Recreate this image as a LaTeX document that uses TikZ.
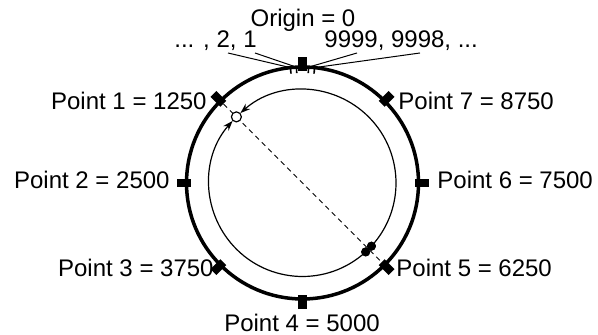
\documentclass[tikz,border=0pt]{standalone}
\usepackage{fontspec}
\setmainfont{Liberation Sans}
\usetikzlibrary{arrows.meta, calc}

\tikzset{
  lbl/.style={font=\fontsize{12}{14}\selectfont, inner sep=0pt},
  ringmark/.style={fill=black, minimum width=7pt, minimum height=4.2pt, inner sep=0pt},
  leader/.style={line width=0.5pt},
  flow/.style={line width=0.6pt, -{Stealth[length=5pt, width=3.5pt]}},
}

\begin{document}
\begin{tikzpicture}[x=0.5pt, y=0.5pt]
  \useasboundingbox (0,0) rectangle (598,335);
  \coordinate (c) at (302.5,152);

  % counters on the inner ring
  \node[circle, fill=black, minimum size=4.5pt, inner sep=0pt] (dA) at ($(c)+(-42.5:93.5)$) {};
  \node[circle, fill=black, minimum size=4.5pt, inner sep=0pt] (dB) at ($(c)+(-47.5:93.5)$) {};
  \draw[flow] (dA.center) arc[start angle=-42.5, end angle=131.6, radius=93.5];
  \draw[flow] (dB.center) arc[start angle=312.5, end angle=138.4, radius=93.5];

  % outer ring and its marks
  \draw[line width=1.75pt] (c) circle[radius=116];
  \foreach \n/\a in {a/93, b/96, z/87, y/84}
    \draw[line width=0.8pt] ($(c)+(\a:116)$) coordinate (t\n) -- ($(c)+(\a:110)$);
  \foreach \i/\a in {0/90, 1/135, 2/180, 3/225, 4/270, 5/315, 6/0, 7/45}
    \node[ringmark, rotate=\a] (p\i) at ($(c)+(\a:119)$) {};

  \draw[leader, dash pattern=on 2.5pt off 2pt] (p1) -- (p5);
  \node[circle, draw, fill=white, line width=0.6pt, minimum size=5pt, inner sep=0pt] (cur) at ($(c)+(135:93.5)$) {};
  \node[circle, fill=black, minimum size=4.5pt, inner sep=0pt] at (dA) {};
  \node[circle, fill=black, minimum size=4.5pt, inner sep=0pt] at (dB) {};

  % labels
  \node[lbl, anchor=base] (org) at (303,308) {Origin = 0};
  \node[lbl, anchor=base east] (low) at (257,287) {... , 2, 1};
  \node[lbl, anchor=base west] (high) at (324,287) {9999, 9998, ...};
  \coordinate (s2) at (228,282);
  \coordinate (s1) at (255,282);
  \coordinate (s9) at (357,282);
  \coordinate (s8) at (420,282);
  \draw[leader] (s2) -- (tb);
  \draw[leader] (s1) -- (ta);
  \draw[leader] (s9) -- (tz);
  \draw[leader] (s8) -- (ty);

  \node[lbl, anchor=base east] (l1) at (207,225) {Point 1 = 1250};
  \node[lbl, anchor=base west] (l7) at (398,225) {Point 7 = 8750};
  \node[lbl, anchor=base east] (l2) at (170,146) {Point 2 = 2500};
  \node[lbl, anchor=base west] (l6) at (437,146) {Point 6 = 7500};
  \node[lbl, anchor=base east] (l3) at (214,58) {Point 3 = 3750};
  \node[lbl, anchor=base west] (l5) at (396,58) {Point 5 = 6250};
  \node[lbl, anchor=base] (l4) at (302,3) {Point 4 = 5000};
\end{tikzpicture}
\end{document}
